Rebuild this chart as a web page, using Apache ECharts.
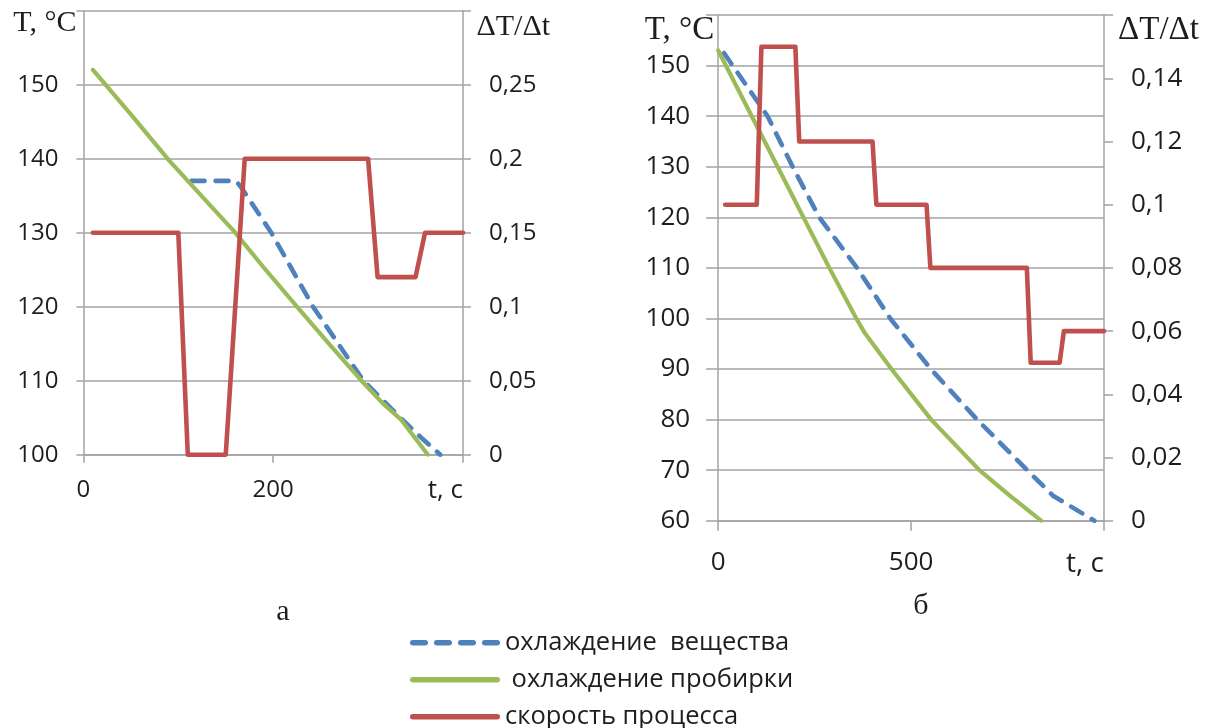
<!DOCTYPE html>
<html>
<head>
<meta charset="utf-8">
<script src="https://cdn.jsdelivr.net/npm/echarts@6/dist/echarts.min.js"></script>
<style>
  html, body { margin: 0; padding: 0; background: #fff; }
  #chart { width: 1218px; height: 728px; }
</style>
</head>
<body>
<div id="chart"></div>
<script>
// Panel "а" — time in seconds, temperature in °C, rate ΔT/Δt
const timeA_substance = [114, 161, 167, 198, 242, 295, 330, 350, 376];
const tempA_substance = [137, 137, 136, 130, 120, 110, 105.5, 103, 100];
const timeA_tube = [10, 50, 90, 130, 160, 190, 225, 260, 293, 315, 335, 363];
const tempA_tube = [152, 146, 139.8, 134.2, 130, 125.3, 120, 114.8, 110, 107, 104.7, 100];
const timeA_rate = [10, 100, 110, 150, 170, 300, 310, 350, 360, 400];
const rateA = [0.15, 0.15, 0, 0, 0.2, 0.2, 0.12, 0.12, 0.15, 0.15];

// Panel "б"
const timeB_substance = [15, 128, 193, 262, 360, 446, 551, 671, 801, 867, 975];
const tempB_substance = [152.5, 140, 130, 120, 110, 100, 90, 80, 70, 65, 60];
const timeB_tube = [0, 87, 154, 221, 288, 358, 380, 449, 552, 677, 755, 837];
const tempB_tube = [153, 140, 130, 120, 110, 100, 97.1, 90, 80, 70, 65, 60];
const timeB_rate = [18, 100, 112, 200, 210, 400, 410, 540, 550, 800, 810, 885, 896, 1000];
const rateB = [0.1, 0.1, 0.15, 0.15, 0.12, 0.12, 0.1, 0.1, 0.08, 0.08, 0.05, 0.05, 0.06, 0.06];

// Names and titles
const seriesNames = ['охлаждение  вещества', ' охлаждение пробирки', 'скорость процесса'];
const panelLabels = ['а', 'б'];
const tempTitle = 'T, °C';
const rateTitle = 'ΔT/Δt';
const timeTitle = 't, c';

// Axis ranges: [min, max, interval]
const timeRangeA = [0, 400, 200];
const tempRangeA = [100, 160, 10];
const rateRangeA = [0, 0.3, 0.05];
const timeRangeB = [0, 1000, 500];
const tempRangeB = [60, 160, 10];
const rateRangeB = [0, 0.16, 0.02];

const colors = ['#4F81BD', '#9BBB59', '#C0504D'];
const gray = '#a3a3a3';
const ink = '#1e1e1e';
const sans = '"Open Sans", sans-serif';
const serif = '"Liberation Serif", "DejaVu Serif", serif';

const zip = (xs, ys) => xs.map((x, i) => [x, ys[i]]);
const rateFmt = v => (v === 0 ? '0' : String(+v.toFixed(3)).replace('.', ','));

function timeAxis(grid, range, fs, margin, tickLen, nameFs) {
  return {
    type: 'value', gridIndex: grid, min: range[0], max: range[1], interval: range[2],
    axisLine: { show: true, onZero: false, lineStyle: { color: gray, width: 1.5 } },
    axisTick: { show: true, length: tickLen, lineStyle: { color: gray, width: 1.5 } },
    splitLine: { show: false },
    axisLabel: { margin: margin, fontSize: fs, fontFamily: sans, color: ink,
      formatter: v => (v === range[1] ? '' : String(v)) },
    name: timeTitle, nameLocation: 'end', nameGap: 0,
    nameTextStyle: { fontFamily: sans, fontSize: nameFs, color: ink, align: 'right',
      verticalAlign: 'top', padding: [margin, 0, 0, 0] }
  };
}

function tempAxis(grid, range, fs, margin, tickLen, nameFs, nameGap, padR) {
  return {
    type: 'value', gridIndex: grid, position: 'left', min: range[0], max: range[1], interval: range[2],
    axisLine: { show: true, lineStyle: { color: gray, width: 1.5 } },
    axisTick: { show: true, length: tickLen, lineStyle: { color: gray, width: 1.5 } },
    splitLine: { show: true, lineStyle: { color: gray, width: 1.5 } },
    axisLabel: { margin: margin, fontSize: fs, fontFamily: sans, color: ink,
      formatter: v => (v === range[1] ? '' : String(v)) },
    name: tempTitle, nameLocation: 'end', nameGap: nameGap,
    nameTextStyle: { fontFamily: serif, fontSize: nameFs, color: ink, align: 'right',
      verticalAlign: 'middle', padding: [0, padR, 0, 0] }
  };
}

function rateAxis(grid, range, fs, margin, tickLen, nameFs, nameGap, padL) {
  return {
    type: 'value', gridIndex: grid, position: 'right', min: range[0], max: range[1], interval: range[2],
    axisLine: { show: true, lineStyle: { color: gray, width: 1.5 } },
    axisTick: { show: true, length: tickLen, lineStyle: { color: gray, width: 1.5 } },
    splitLine: { show: false },
    axisLabel: { margin: margin, fontSize: fs, fontFamily: sans, color: ink,
      formatter: v => (Math.abs(v - range[1]) < 1e-9 ? '' : rateFmt(v)) },
    name: rateTitle, nameLocation: 'end', nameGap: nameGap,
    nameTextStyle: { fontFamily: serif, fontSize: nameFs, color: ink, align: 'left',
      verticalAlign: 'middle', padding: [0, 0, 0, padL] }
  };
}

function lineSeries(idx, xIdx, yIdx, data) {
  const s = {
    name: seriesNames[idx], type: 'line', xAxisIndex: xIdx, yAxisIndex: yIdx,
    data: data, symbol: 'none', animation: false, z: 2 + idx,
    itemStyle: { color: colors[idx] },
    lineStyle: { color: colors[idx], width: idx === 1 ? 4.2 : 4.6, cap: 'round', join: 'round' }
  };
  if (idx === 0) s.lineStyle.type = [13, 11];
  return s;
}

// Legend swatches: rounded bars 90 wide, 5.5 high; the first one is split into dashes
const SW = 90, SH = 5.5, R = SH / 2;
function capsule(x0, x1) {
  return 'M' + (x0 + R) + ',0H' + (x1 - R) + 'A' + R + ',' + R + ',0,0,1,' + (x1 - R) + ',' + SH +
    'H' + (x0 + R) + 'A' + R + ',' + R + ',0,0,1,' + (x0 + R) + ',0Z';
}
const dashIcon = 'path://' + [[0, 18], [24, 42], [48, 66], [72, 90]].map(d => capsule(d[0], d[1])).join('');
const solidIcon = 'path://' + capsule(0, SW);
const legendIcons = [dashIcon, solidIcon, solidIcon];

// One legend block per row so the three rows stack in a single column
const legendRowCenters = [642.7, 679.7, 716.7];
function legendRow(i) {
  return {
    orient: 'vertical', left: 410, top: legendRowCenters[i] - 15, padding: 0,
    itemWidth: SW, itemHeight: SH, selectedMode: false,
    data: [{ name: seriesNames[i], icon: legendIcons[i], itemStyle: { color: colors[i], opacity: 1 } }],
    textStyle: { fontFamily: sans, fontSize: 25.5, color: ink, lineHeight: 30 }
  };
}

const chart = echarts.init(document.getElementById('chart'), null, { renderer: 'canvas' });
chart.setOption({
  animation: false,
  backgroundColor: '#fff',
  grid: [
    { left: 83.4, top: 10.7, width: 379.6, height: 444, outerBoundsMode: 'none' },
    { left: 718.2, top: 15.1, width: 385.8, height: 505.6, outerBoundsMode: 'none' }
  ],
  xAxis: [
    timeAxis(0, timeRangeA, 24, 23, 8, 26),
    timeAxis(1, timeRangeB, 26, 29, 10, 28)
  ],
  yAxis: [
    tempAxis(0, tempRangeA, 24, 25, 7, 30, -12.6, 7),
    rateAxis(0, rateRangeA, 24, 26, 8, 30, -16.3, 13.5),
    tempAxis(1, tempRangeB, 26, 28, 12, 33, -14.9, 4),
    rateAxis(1, rateRangeB, 26, 27, 9, 33, -14.9, 14)
  ],
  legend: [legendRow(0), legendRow(1), legendRow(2)],
  graphic: [
    { type: 'text', x: 283, y: 612, style: { text: panelLabels[0], font: '30px "Liberation Serif"', fill: ink, align: 'center', verticalAlign: 'middle' } },
    { type: 'text', x: 921, y: 606, style: { text: panelLabels[1], font: '30px "Liberation Serif"', fill: ink, align: 'center', verticalAlign: 'middle' } }
  ],
  series: [
    lineSeries(0, 0, 0, zip(timeA_substance, tempA_substance)),
    lineSeries(1, 0, 0, zip(timeA_tube, tempA_tube)),
    lineSeries(2, 0, 1, zip(timeA_rate, rateA)),
    lineSeries(0, 1, 2, zip(timeB_substance, tempB_substance)),
    lineSeries(1, 1, 2, zip(timeB_tube, tempB_tube)),
    lineSeries(2, 1, 3, zip(timeB_rate, rateB))
  ]
});
</script>
</body>
</html>
